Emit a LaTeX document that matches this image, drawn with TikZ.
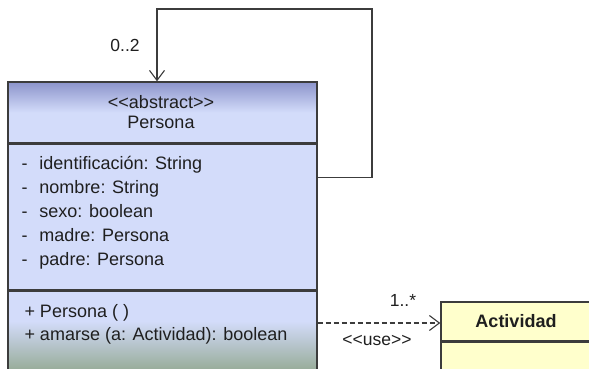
\documentclass[tikz,border=0pt]{standalone}
\usepackage{fontspec}
\setmainfont{Liberation Sans}
\usetikzlibrary{positioning,arrows.meta}
\definecolor{classblue}{RGB}{211,220,250}
\definecolor{headblue}{RGB}{140,148,203}
\definecolor{opsgreen}{RGB}{152,172,154}
\definecolor{actyellow}{RGB}{255,255,204}
\definecolor{umlline}{RGB}{60,60,60}
% operations compartment fades to green near its lower end
\pgfdeclareverticalshading{opsfade}{100bp}{color(0bp)=(opsgreen);
	color(28bp)=(opsgreen); color(57bp)=(classblue); color(100bp)=(classblue)}
\tikzset{
compartment/.style={
	  draw=umlline, line width=1.4pt, rectangle,
	    inner sep=0pt, minimum width=309pt},
member/.style={font=\fontsize{18}{24}\selectfont, align=left,
	inner sep=0pt, text=black!88},
mult/.style={font=\fontsize{17.5}{20}\selectfont, inner sep=1pt, text=black!88},
link/.style={draw=umlline, line width=1.1pt,
	-{Straight Barb[length=10pt,width=15pt]}}
}
\newcommand{\stereo}[1]{<\kern0pt<#1>\kern0pt>}
\newcommand{\umlattr}[1]{\makebox[18pt][l]{-}#1}

\begin{document}
\begin{tikzpicture}[x=1pt, y=-1pt]
	\useasboundingbox (0,0) rectangle (589,368);
	\clip (0,0) rectangle (589,368);
	% class Persona
	\node[compartment, minimum height=61pt, top color=headblue,
		bottom color=classblue, middle color=classblue] (head) at (162.5,112.5) {};
	\node[compartment, minimum height=145pt, fill=classblue, anchor=north]
		(attrs) at (head.south) {};
	\node[compartment, minimum height=84pt, shading=opsfade, anchor=north]
		(ops) at (attrs.south) {};
	\node[member, align=center, font=\fontsize{18}{20}\selectfont] (headtext)
		at ([xshift=-1.5pt]head.center) {\stereo{abstract}\\Persona};
	\node[member, below right=12pt and 14pt of attrs.north west] (attrtext) {%
		\umlattr{identificación: String}\\
		\umlattr{nombre: String}\\
		\umlattr{sexo: boolean}\\
		\umlattr{madre: Persona}\\
		\umlattr{padre: Persona}};
	\node[member, font=\fontsize{18}{23}\selectfont,
		below right=14pt and 17pt of ops.north west] (opstext) {%
		+ Persona ( )\\
		+ amarse (a: Actividad): boolean};
	% class Actividad
	\node[compartment, minimum width=150pt, minimum height=39pt, fill=actyellow,
		font=\fontsize{18}{20}\selectfont\bfseries, text=black!88]
		(act) at (516,321.5) {Actividad};
	\node[compartment, minimum width=150pt, minimum height=40pt, fill=actyellow,
		anchor=north] (actbody) at (act.south) {};
	% self association
	\coordinate (corner) at (372,9);
	\draw[link] ([yshift=-33.5pt]attrs.north east) -| (corner)
		-| ([xshift=-5.5pt]head.north);
	\node[mult] (selfmult) at (125,45) {0..2};
	% dependency
	\draw[link, dash pattern=on 5pt off 3pt] (ops.east |- 0,323) -- (act.west |- 0,323);
	\node[mult] (usemult) at (403,300) {1..*};
	\node[mult] (usestereo) at (377,340) {\stereo{use}};
\end{tikzpicture}
\end{document}
